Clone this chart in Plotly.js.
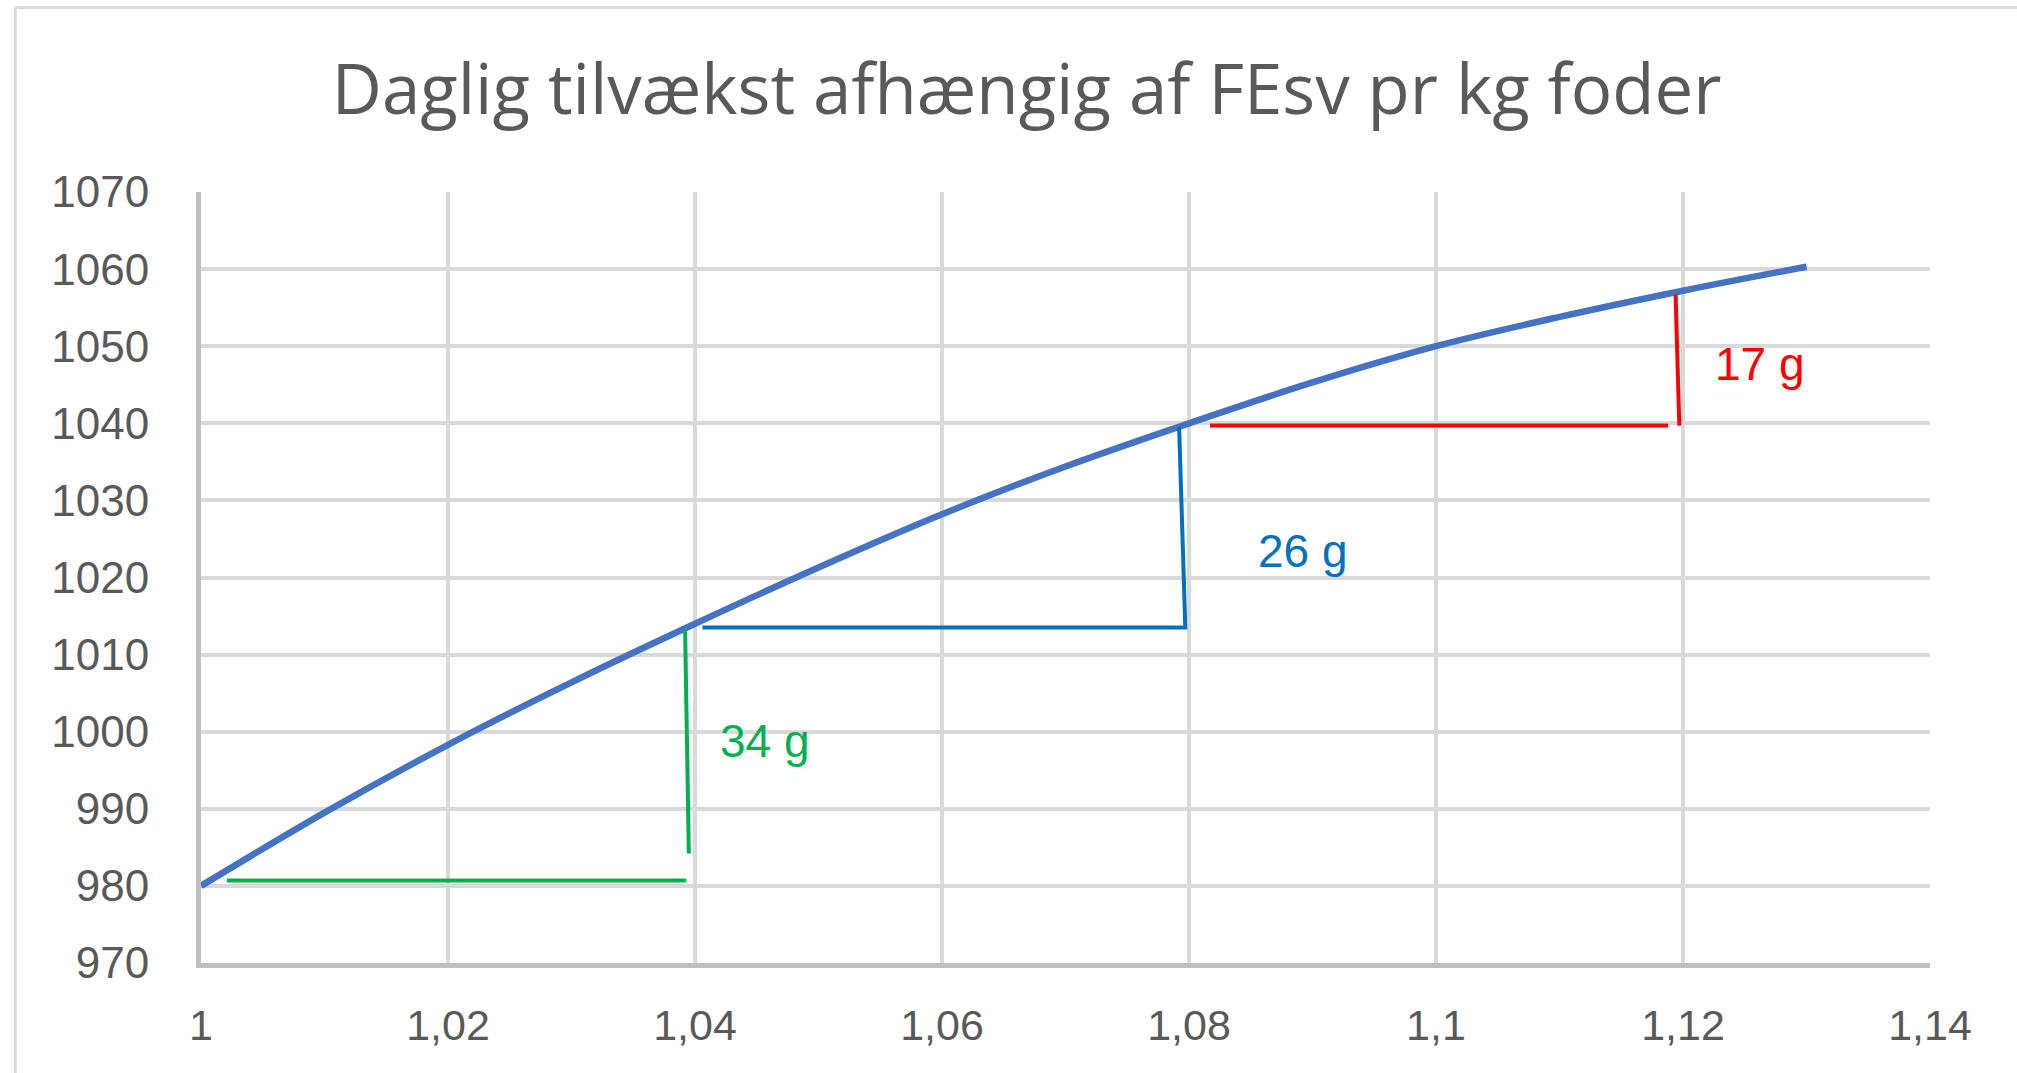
<!DOCTYPE html>
<html>
<head>
<meta charset="utf-8">
<script src="https://cdn.plot.ly/plotly-3.0.1.min.js"></script>
<style>
  html, body { margin: 0; padding: 0; background: #ffffff; }
  #chart { width: 2017px; height: 1073px; }
</style>
</head>
<body>
<div id="chart"></div>
<script>
// ---- data ----
const fesv = [1.00, 1.01, 1.02, 1.03, 1.04, 1.05, 1.06, 1.07, 1.08, 1.09, 1.10, 1.11, 1.12, 1.13];
const tilvaekst = [980, 989.5, 998.3, 1006.4, 1014, 1021.3, 1028.2, 1034.4, 1040, 1045.3, 1050, 1053.8, 1057.2, 1060.3];

// guide lines (step markers)
const greenX = [1.0021, 1.0393, null, 1.0392, 1.0395];
const greenY = [980.7, 980.7, null, 1013.2, 984.2];
const blueX = [1.0406, 1.0797, 1.0792];
const blueY = [1013.5, 1013.5, 1039.5];
const redX = [1.0817, 1.1188, null, 1.1194, 1.1197];
const redY = [1039.7, 1039.7, null, 1056.7, 1039.7];

const labelTexts = ["34 g", "26 g", "17 g"];
const labelX = [1.0419, 1.0854, 1.1224];
const labelY = [998.8, 1023.5, 1047.7];
const labelColors = ["#00b050", "#0070c0", "#ff0000"];

const titleText = "Daglig tilvækst afhængig af FEsv pr kg foder";
const xRange = [1, 1.14];
const yRange = [970, 1070];

// ---- layout geometry ----
const W = 2017, H = 1073;
const mL = 200.7, mR = 87.4, mT = 191.7, mB = 109.5;
const pw = W - mL - mR, ph = H - mT - mB;
const px = v => (v - mL) / pw;
const py = v => (H - mB - v) / ph;

const traces = [
  { x: fesv, y: tilvaekst, type: 'scatter', mode: 'lines',
    line: { color: '#4472c4', width: 6.5, shape: 'spline', smoothing: 1 }, hoverinfo: 'skip' },
  { x: greenX, y: greenY, type: 'scatter', mode: 'lines',
    line: { color: '#00b050', width: 4 }, hoverinfo: 'skip' },
  { x: blueX, y: blueY, type: 'scatter', mode: 'lines',
    line: { color: '#0070c0', width: 4 }, hoverinfo: 'skip' },
  { x: redX, y: redY, type: 'scatter', mode: 'lines',
    line: { color: '#ff0000', width: 4 }, hoverinfo: 'skip' }
];

const annotations = labelTexts.map((t, i) => ({
  text: t, x: labelX[i], y: labelY[i], xref: 'x', yref: 'y',
  xanchor: 'left', yanchor: 'middle', showarrow: false,
  font: { family: 'Liberation Sans, Arial, sans-serif', size: 46, color: labelColors[i] }
}));

const layout = {
  width: W, height: H,
  margin: { l: mL, r: mR, t: mT, b: mB, pad: 0 },
  paper_bgcolor: '#ffffff', plot_bgcolor: '#ffffff',
  showlegend: false,
  separators: ',.',
  title: {
    text: titleText, xref: 'container', yref: 'container',
    x: 0.509, xanchor: 'center', y: 0.916, yanchor: 'middle',
    font: { family: 'Open Sans, sans-serif', size: 69, color: '#595959' }
  },
  xaxis: {
    range: xRange, dtick: 0.02, tick0: 1, showgrid: true,
    gridcolor: '#d9d9d9', gridwidth: 4,
    showline: true, linecolor: '#bfbfbf', linewidth: 5,
    zeroline: false, ticks: '', ticklabelstandoff: 20,
    tickfont: { family: 'Liberation Sans, Arial, sans-serif', size: 43, color: '#595959' },
    fixedrange: true
  },
  yaxis: {
    range: yRange, dtick: 10, tick0: 970, showgrid: true,
    gridcolor: '#d9d9d9', gridwidth: 4,
    showline: true, linecolor: '#bfbfbf', linewidth: 5,
    zeroline: false, ticks: '', ticklabelstandoff: 38,
    tickfont: { family: 'Liberation Sans, Arial, sans-serif', size: 44, color: '#595959' },
    fixedrange: true
  },
  annotations: annotations,
  shapes: [
    { type: 'line', xref: 'paper', yref: 'paper', layer: 'below',
      x0: px(15), x1: px(15), y0: py(7), y1: py(H + 5),
      line: { color: '#d9d9d9', width: 3 } },
    { type: 'line', xref: 'paper', yref: 'paper', layer: 'below',
      x0: px(15), x1: px(W + 5), y0: py(7), y1: py(7),
      line: { color: '#d9d9d9', width: 3 } }
  ]
};

Plotly.newPlot('chart', traces, layout, { staticPlot: true, displayModeBar: false });
</script>
</body>
</html>
